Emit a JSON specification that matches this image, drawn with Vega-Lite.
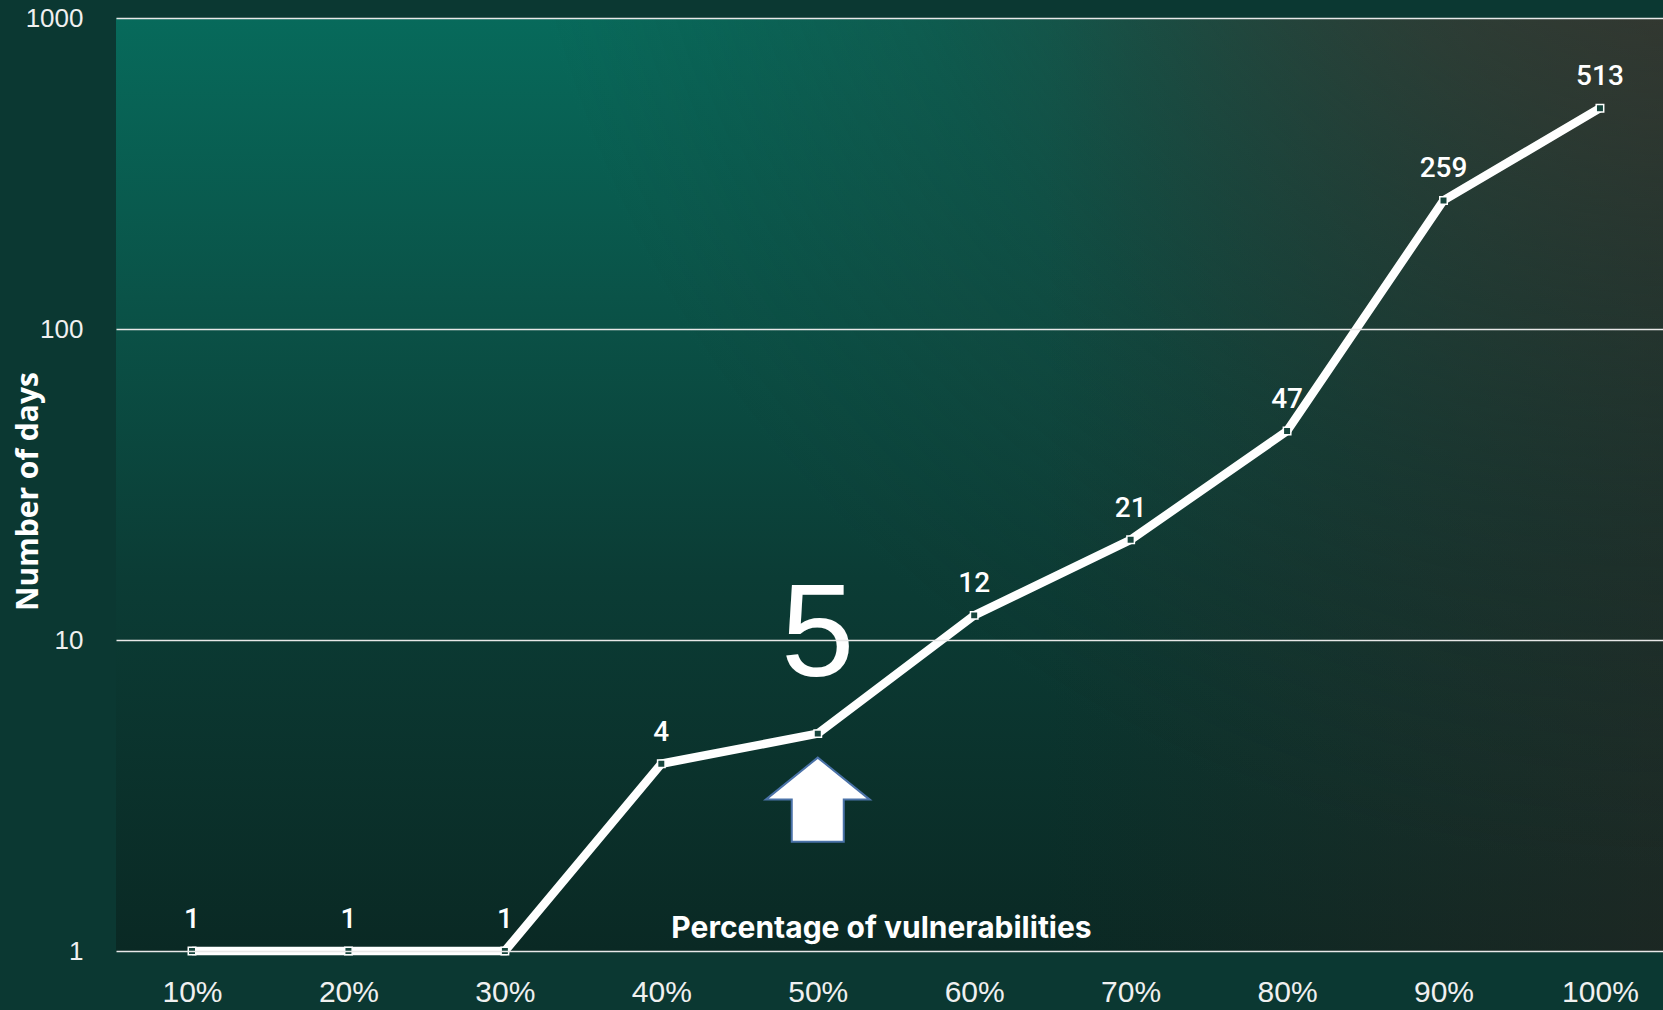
{
  "$schema": "https://vega.github.io/schema/vega-lite/v6.json",
  "width": 1547,
  "height": 933,
  "autosize": "none",
  "padding": {"left": 116, "top": 18, "right": 0, "bottom": 59},
  "background": "#0b3832",
  "config": {"view": {"stroke": null}},
  "data": {"values": [
    {"pct": 10, "days": 1},
    {"pct": 20, "days": 1},
    {"pct": 30, "days": 1},
    {"pct": 40, "days": 4},
    {"pct": 50, "days": 5},
    {"pct": 60, "days": 12},
    {"pct": 70, "days": 21},
    {"pct": 80, "days": 47},
    {"pct": 90, "days": 259},
    {"pct": 100, "days": 513}
  ]},
  "layer": [
    {
      "data": {"values": [{"bg": 1}]},
      "mark": {"type": "rect", "fill": {"gradient": "linear", "x1": 0, "y1": 0, "x2": 0, "y2": 1, "stops": [
        {"offset": 0, "color": "#076a5b"},
        {"offset": 0.3, "color": "#0a5348"},
        {"offset": 0.6, "color": "#0b3c35"},
        {"offset": 1, "color": "#0a2924"}
      ]}},
      "encoding": {}
    },
    {
      "data": {"values": [{"bg": 1}]},
      "mark": {"type": "rect", "fill": {"gradient": "linear", "x1": 0, "y1": 0, "x2": 1, "y2": 0, "stops": [
        {"offset": 0, "color": "rgba(42,38,34,0)"},
        {"offset": 0.6, "color": "rgba(42,38,34,0)"},
        {"offset": 1, "color": "rgba(42,38,34,0.55)"}
      ]}},
      "encoding": {}
    },
    {
      "data": {"values": [{"bg": 1}]},
      "mark": {"type": "rect", "fill": {"gradient": "radial", "x1": 1, "y1": 0, "r1": 0, "x2": 1, "y2": 0, "r2": 0.75, "stops": [
        {"offset": 0, "color": "rgba(68,52,46,0.9)"},
        {"offset": 0.35, "color": "rgba(58,48,42,0.6)"},
        {"offset": 0.7, "color": "rgba(40,40,36,0.2)"},
        {"offset": 1, "color": "rgba(40,40,36,0)"}
      ]}},
      "encoding": {}
    },
    {
      "encoding": {
        "x": {
          "field": "pct", "type": "quantitative",
          "scale": {"domain": [5.142, 104.03], "nice": false, "zero": false},
          "axis": {
            "title": "Percentage of vulnerabilities",
            "values": [10, 20, 30, 40, 50, 60, 70, 80, 90, 100],
            "labelExpr": "datum.value + '%'",
            "grid": false, "domain": false, "ticks": false,
            "labelFont": "Liberation Sans", "labelFontSize": 30, "labelColor": "#f0f0f0",
            "labelBaseline": "middle", "labelPadding": 41, "labelFlush": false, "labelOverlap": false,
            "titleFont": "Inter", "titleFontWeight": "bold", "titleFontSize": 30, "titleColor": "#ffffff",
            "titleX": 765, "titleY": -14, "titleBaseline": "alphabetic", "titleAlign": "center",
            "zindex": 1
          }
        },
        "y": {
          "field": "days", "type": "quantitative",
          "scale": {"type": "log", "domain": [1, 1000], "nice": false},
          "axis": {
            "title": "Number of days",
            "values": [1, 10, 100, 1000],
            "format": "d",
            "grid": true, "gridColor": "#e8e8e8", "gridWidth": 1.5, "gridOpacity": 1,
            "domain": false, "ticks": false,
            "labelFont": "Liberation Sans", "labelFontSize": 26, "labelColor": "#f0f0f0",
            "labelPadding": 33, "labelFlush": false, "labelOverlap": false,
            "titleFont": "Open Sans", "titleFontWeight": "bold", "titleFontSize": 30, "titleColor": "#ffffff",
            "titleX": -88, "titleY": 473, "titleAngle": -90, "titleBaseline": "middle", "titleAlign": "center",
            "zindex": 1
          }
        }
      },
      "layer": [
        {"mark": {"type": "line", "color": "#ffffff", "strokeWidth": 8.5}},
        {"mark": {"type": "point", "shape": "square", "size": 56, "filled": true, "fill": "#17463d", "stroke": "#ffffff", "strokeWidth": 1.5, "opacity": 1}},
        {
          "transform": [{"filter": "datum.pct != 50"}],
          "mark": {"type": "text", "font": "Roboto", "fontSize": 28, "fontWeight": 500, "color": "#ffffff", "dy": -31, "baseline": "middle", "align": "center"},
          "encoding": {"text": {"field": "days", "type": "quantitative"}}
        },
        {
          "transform": [{"filter": "datum.pct == 50"}],
          "mark": {"type": "text", "font": "Liberation Sans", "fontSize": 132, "color": "#ffffff", "dy": -98, "baseline": "middle", "align": "center"},
          "encoding": {"text": {"field": "days", "type": "quantitative"}}
        },
        {
          "transform": [{"filter": "datum.pct == 50"}],
          "mark": {"type": "point", "shape": "M0,-0.808L1,0L0.5,0L0.5,0.808L-0.5,0.808L-0.5,0L-1,0Z", "size": 10816, "filled": true, "fill": "#ffffff", "stroke": "#4a72a8", "strokeWidth": 2, "opacity": 1, "yOffset": 66}
        }
      ]
    }
  ]
}
